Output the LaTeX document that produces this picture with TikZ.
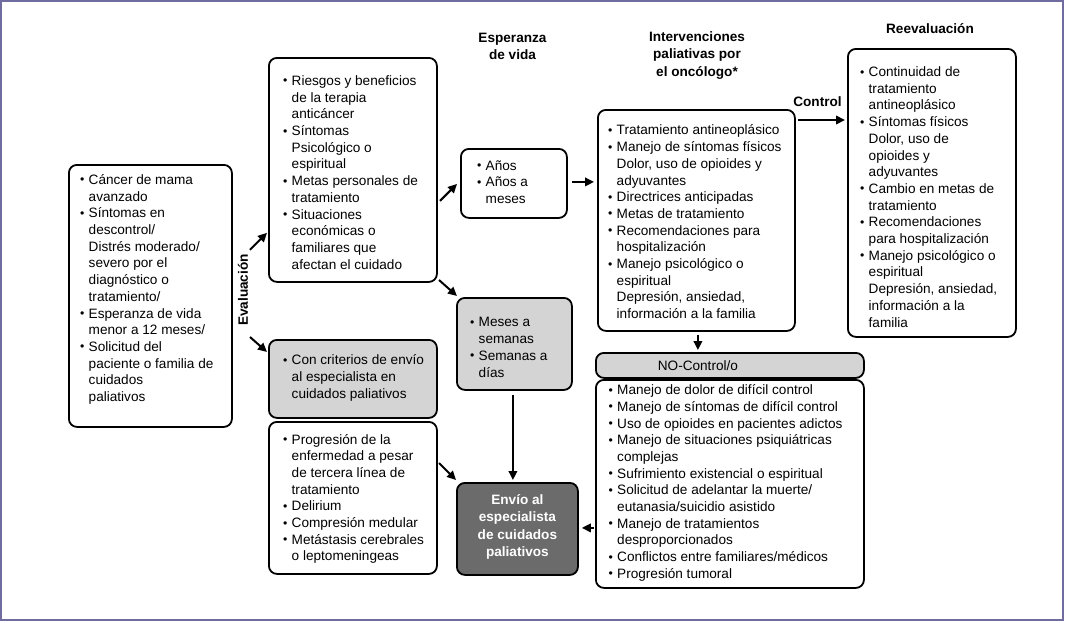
\documentclass[tikz,border=0pt]{standalone}
\usepackage{fontspec}
\setmainfont{Liberation Sans}
\usepackage{graphicx}
\usetikzlibrary{calc,arrows.meta}
\definecolor{lgray}{HTML}{D4D4D4}
\definecolor{dgray}{HTML}{6B6B6B}
\definecolor{framec}{RGB}{112,108,160}
\newcommand\bu{\makebox[8.5pt][l]{\raisebox{0.5pt}{\scalebox{0.9}{\textbullet}}}}
\newcommand\ct{\hspace*{8.5pt}}
\begin{document}
\begin{tikzpicture}[x=1pt,y=-1pt,
 box/.style={draw,line width=1.8pt,rounded corners=8pt,anchor=north west,inner sep=0pt},
 txt/.style={anchor=west,align=left,inner sep=0pt,font=\fontsize{13.6pt}{16.7pt}\selectfont},
 hdr/.style={align=center,inner sep=0pt,font=\bfseries\fontsize{13.6pt}{17.5pt}\selectfont},
 arr/.style={line width=2pt,-{Triangle[length=9pt,width=8.5pt]}}]
\useasboundingbox (0,0) rectangle (1065,622);
\fill[white] (0,0) rectangle (1065,622);
\draw[framec,line width=1.5pt] (1,1) rectangle (1063,620);

% boxes
\node[box,minimum width=163pt,minimum height=262pt] (A) at (68,164) {};
\node[box,minimum width=168pt,minimum height=224pt] (B) at (268,57) {};
\node[box,minimum width=106pt,minimum height=69pt] (C) at (460,148) {};
\node[box,fill=lgray,minimum width=115pt,minimum height=92pt] (D) at (456,297) {};
\node[box,fill=lgray,minimum width=168pt,minimum height=78pt] (E) at (268,339) {};
\node[box,minimum width=168pt,minimum height=152pt] (F) at (268,421) {};
\node[box,fill=dgray,minimum width=121pt,minimum height=92pt] (G) at (456,482) {};
\node[box,minimum width=197pt,minimum height=221pt] (H) at (597,109) {};
\node[box,fill=lgray,minimum width=268pt,minimum height=25pt] (I) at (595,352) {};
\node[box,minimum width=268pt,minimum height=208pt] (J) at (595,379) {};
\node[box,minimum width=168pt,minimum height=288pt] (K) at (847,48) {};

% texts
\node[txt] (tA) at ($(A.west)+(12,-6.5)$) {\bu Cáncer de mama\\ \ct avanzado\\ \bu Síntomas en\\ \ct descontrol/\\ \ct Distrés moderado/\\ \ct severo por el\\ \ct diagnóstico o\\ \ct tratamiento/\\ \bu Esperanza de vida\\ \ct menor a 12 meses/\\ \bu Solicitud del\\ \ct paciente o familia de\\ \ct cuidados\\ \ct paliativos};
\node[txt] (tB) at ($(B.west)+(15,2.5)$) {\bu Riesgos y beneficios\\ \ct de la terapia\\ \ct anticáncer\\ \bu Síntomas\\ \ct Psicológico o\\ \ct espiritual\\ \bu Metas personales de\\ \ct tratamiento\\ \bu Situaciones\\ \ct económicas o\\ \ct familiares que\\ \ct afectan el cuidado};
\node[txt] (tC) at ($(C.west)+(17,-1.5)$) {\bu Años\\ \bu Años a\\ \ct meses};
\node[txt] (tD) at ($(D.west)+(14,3.5)$) {\bu Meses a\\ \ct semanas\\ \bu Semanas a\\ \ct días};
\node[txt] (tE) at ($(E.west)+(15,-1)$) {\bu Con criterios de envío\\ \ct al especialista en\\ \ct cuidados paliativos};
\node[txt] (tF) at ($(F.west)+(15,1)$) {\bu Progresión de la\\ \ct enfermedad a pesar\\ \ct de tercera línea de\\ \ct tratamiento\\ \bu Delirium\\ \bu Compresión medular\\ \bu Metástasis cerebrales\\ \ct o leptomeningeas};
\node[hdr,text=white] (tG) at ($(G.center)+(0,-2)$) {Envío al\\especialista\\de cuidados\\paliativos};
\node[txt] (tH) at ($(H.west)+(11,1.5)$) {\bu Tratamiento antineoplásico\\ \bu Manejo de síntomas físicos\\ \ct Dolor, uso de opioides y\\ \ct adyuvantes\\ \bu Directrices anticipadas\\ \bu Metas de tratamiento\\ \bu Recomendaciones para\\ \ct hospitalización\\ \bu Manejo psicológico o\\ \ct espiritual\\ \ct Depresión, ansiedad,\\ \ct información a la familia};
\node[txt,anchor=center] (tI) at ($(I.center)+(-32,0)$) {NO-Control/o};
\node[txt] (tJ) at ($(J.west)+(13.5,-1)$) {\bu Manejo de dolor de difícil control\\ \bu Manejo de síntomas de difícil control\\ \bu Uso de opioides en pacientes adictos\\ \bu Manejo de situaciones psiquiátricas\\ \ct complejas\\ \bu Sufrimiento existencial o espiritual\\ \bu Solicitud de adelantar la muerte/\\ \ct eutanasia/suicidio asistido\\ \bu Manejo de tratamientos\\ \ct desproporcionados\\ \bu Conflictos entre familiares/médicos\\ \bu Progresión tumoral};
\node[txt] (tK) at ($(K.west)+(13,4)$) {\bu Continuidad de\\ \ct tratamiento\\ \ct antineoplásico\\ \bu Síntomas físicos\\ \ct Dolor, uso de\\ \ct opioides y\\ \ct adyuvantes\\ \bu Cambio en metas de\\ \ct tratamiento\\ \bu Recomendaciones\\ \ct para hospitalización\\ \bu Manejo psicológico o\\ \ct espiritual\\ \ct Depresión, ansiedad,\\ \ct información a la\\ \ct familia};

% headers
\node[hdr] (hE) at (512.5,46.5) {Esperanza\\de vida};
\node[hdr] (hI) at (697,55.5) {Intervenciones\\paliativas por\\el oncólogo*};
\node[hdr] (hR) at (930,29) {Reevaluación};
\node[hdr] (hC) at (817.5,102) {Control};
\node[hdr,rotate=90] (hEv) at (243,290) {Evaluación};

% arrows
\draw[arr] ($(B.south west)+(-18,-33)$) -- ($(B.south west)+(-1,-50)$);
\draw[arr] ($(E.north west)+(-18,-2)$) -- ($(E.north west)+(-1,13)$);
\draw[arr] ($(C.west)+(-20,17.5)$) -- ($(C.west)+(-3,0.5)$);
\draw[arr] ($(D.north west)+(-17,-17)$) -- ($(D.north west)+(1,-1)$);
\draw[arr] ($(C.east)+(4,-1.5)$) -- ($(H.west |- C.east)+(-3,-1.5)$);
\draw[arr] ($(H.north east)+(2,11)$) -- ($(K.west |- H.north east)+(-2,11)$);
\draw[arr] ($(H.south)+(1.5,3)$) -- ($(H.south |- I.north)+(1.5,-2)$);
\draw[arr] ($(D.south)+(-1.5,4)$) -- ($(D.south |- G.north)+(-1.5,-2)$);
\draw[arr] ($(G.north west)+(-17,-19)$) -- ($(G.north west)+(0,-2)$);
\draw[arr] ($(J.west |- G.east)+(-1,-1)$) -- ($(G.east)+(3,-1)$);
\end{tikzpicture}
\end{document}
